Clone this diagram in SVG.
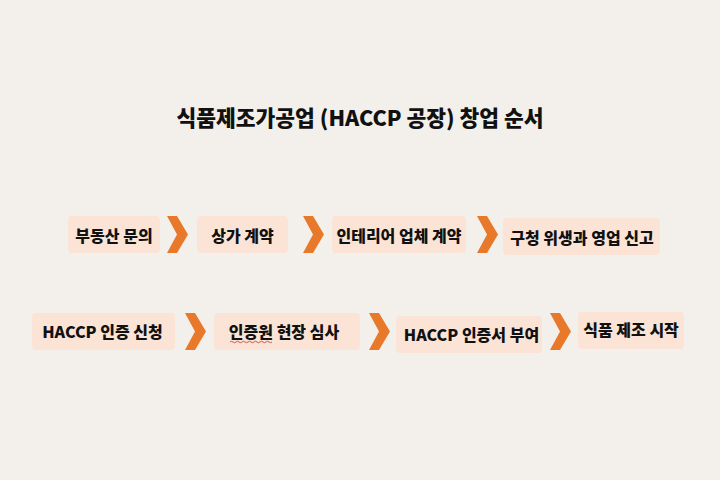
<svg xmlns="http://www.w3.org/2000/svg" width="720" height="480" viewBox="0 0 720 480">
<defs>
<style>
.bg{fill:#f3f0eb}
.box{fill:#fbe4d6}
.arr{fill:#e8792b}
.t{font-family:"Noto Sans CJK KR","Noto Sans",sans-serif;font-weight:900;font-size:16px;fill:#111;text-anchor:middle;dominant-baseline:central}
.title{font-family:"Noto Sans CJK KR","Noto Sans",sans-serif;font-weight:900;font-size:21.5px;fill:#111;text-anchor:middle}
</style>
<path id="chev" d="M0,0 L10,0 L21,18.5 L10,37 L0,37 L10,18.5 Z"/>
</defs>
<rect class="bg" x="0" y="0" width="720" height="480"/>
<text class="title" x="360" y="126">식품제조가공업 (HACCP 공장) 창업 순서</text>

<g id="connectors">
<use href="#chev" class="arr" x="167" y="216"/>
<use href="#chev" class="arr" x="303" y="216"/>
<use href="#chev" class="arr" x="477" y="216"/>
<use href="#chev" class="arr" x="185" y="313"/>
<use href="#chev" class="arr" x="369" y="313"/>
<use href="#chev" class="arr" x="550" y="313"/>
</g>

<g id="n1"><rect class="box" x="68" y="216" width="92" height="37" rx="4"/><text class="t" x="114" y="234.5">부동산 문의</text></g>
<g id="n2"><rect class="box" x="197" y="216" width="91" height="37" rx="4"/><text class="t" x="242.5" y="234.5">상가 계약</text></g>
<g id="n3"><rect class="box" x="332" y="216" width="134" height="37" rx="4"/><text class="t" x="399" y="234.5">인테리어 업체 계약</text></g>
<g id="n4"><rect class="box" x="503" y="218" width="157" height="37" rx="4"/><text class="t" x="582" y="236.5">구청 위생과 영업 신고</text></g>
<g id="n5"><rect class="box" x="32" y="313" width="143" height="37" rx="4"/><text class="t" x="102.5" y="330.5">HACCP 인증 신청</text></g>
<g id="n6"><rect class="box" x="214" y="313" width="146" height="37" rx="4"/><text class="t" x="284" y="331">인증원 현장 심사</text>
<path d="M230,342 q1.5,-1.5 3,0 t3,0 t3,0 t3,0 t3,0 t3,0 t3,0 t3,0 t3,0 t3,0 t3,0 t3,0 t3,0 t3,0" fill="none" stroke="#d04545" stroke-width="0.9"/></g>
<g id="n7"><rect class="box" x="396" y="316" width="146" height="37" rx="4"/><text class="t" x="471.5" y="333.5">HACCP 인증서 부여</text></g>
<g id="n8"><rect class="box" x="578" y="312" width="106" height="37" rx="4"/><text class="t" x="631" y="329">식품 제조 시작</text></g>
</svg>
